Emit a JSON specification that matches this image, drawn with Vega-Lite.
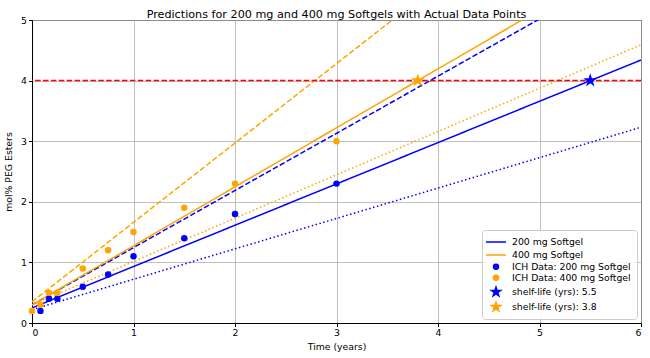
{
  "$schema": "https://vega.github.io/schema/vega-lite/v6.json",
  "width": 609,
  "height": 303,
  "autosize": {"type": "none"},
  "padding": {"left": 32, "top": 20, "right": 9, "bottom": 35},
  "background": "white",
  "title": {"text": "Predictions for 200 mg and 400 mg Softgels with Actual Data Points", "font": "DejaVu Sans", "fontSize": 11.2, "fontWeight": "normal", "color": "black", "offset": -4},
  "config": {
    "font": "DejaVu Sans",
    "view": {"stroke": "black", "strokeWidth": 1},
    "axis": {"labelFont": "DejaVu Sans", "labelFontSize": 9.3, "labelColor": "black", "titleFont": "DejaVu Sans", "titleFontSize": 9.3, "titleFontWeight": "normal", "titleColor": "black", "gridColor": "#b0b0b0", "gridWidth": 0.8, "domainColor": "black", "tickColor": "black", "tickSize": 3.5, "labelPadding": 2}
  },
  "datasets": {
    "lines": [
      {"product": "200 mg", "bound": "fit", "t": 0, "v": 0.25},
      {"product": "200 mg", "bound": "fit", "t": 6, "v": 4.34},
      {"product": "200 mg", "bound": "upper", "t": 0, "v": 0.3},
      {"product": "200 mg", "bound": "upper", "t": 6, "v": 5.96},
      {"product": "200 mg", "bound": "lower", "t": 0, "v": 0.22},
      {"product": "200 mg", "bound": "lower", "t": 6, "v": 3.23},
      {"product": "400 mg", "bound": "fit", "t": 0, "v": 0.3},
      {"product": "400 mg", "bound": "fit", "t": 6, "v": 6.14},
      {"product": "400 mg", "bound": "upper", "t": 0, "v": 0.35},
      {"product": "400 mg", "bound": "upper", "t": 6, "v": 8.21},
      {"product": "400 mg", "bound": "lower", "t": 0, "v": 0.3},
      {"product": "400 mg", "bound": "lower", "t": 6, "v": 4.59}
    ],
    "limit": [{"v": 4}],
    "points": [
      {"label": "ICH Data: 200 mg Softgel", "t": 0.083, "v": 0.2},
      {"label": "ICH Data: 200 mg Softgel", "t": 0.167, "v": 0.4},
      {"label": "ICH Data: 200 mg Softgel", "t": 0.25, "v": 0.4},
      {"label": "ICH Data: 200 mg Softgel", "t": 0.5, "v": 0.6},
      {"label": "ICH Data: 200 mg Softgel", "t": 0.75, "v": 0.8},
      {"label": "ICH Data: 200 mg Softgel", "t": 1, "v": 1.1},
      {"label": "ICH Data: 200 mg Softgel", "t": 1.5, "v": 1.4},
      {"label": "ICH Data: 200 mg Softgel", "t": 2, "v": 1.8},
      {"label": "ICH Data: 200 mg Softgel", "t": 3, "v": 2.3},
      {"label": "ICH Data: 400 mg Softgel", "t": 0, "v": 0.2},
      {"label": "ICH Data: 400 mg Softgel", "t": 0.083, "v": 0.3},
      {"label": "ICH Data: 400 mg Softgel", "t": 0.167, "v": 0.5},
      {"label": "ICH Data: 400 mg Softgel", "t": 0.25, "v": 0.5},
      {"label": "ICH Data: 400 mg Softgel", "t": 0.5, "v": 0.9},
      {"label": "ICH Data: 400 mg Softgel", "t": 0.75, "v": 1.2},
      {"label": "ICH Data: 400 mg Softgel", "t": 1, "v": 1.5},
      {"label": "ICH Data: 400 mg Softgel", "t": 1.5, "v": 1.9},
      {"label": "ICH Data: 400 mg Softgel", "t": 2, "v": 2.3},
      {"label": "ICH Data: 400 mg Softgel", "t": 3, "v": 3.0},
      {"label": "shelf-life (yrs): 5.5", "t": 5.5, "v": 4},
      {"label": "shelf-life (yrs): 3.8", "t": 3.8, "v": 4}
    ]
  },
  "layer": [
    {
      "data": {"name": "lines"},
      "mark": {"type": "line", "clip": true, "strokeWidth": 1.5},
      "encoding": {
        "x": {"field": "t", "type": "quantitative", "scale": {"domain": [0, 6], "nice": false, "zero": false}, "axis": {"title": "Time (years)", "values": [0, 1, 2, 3, 4, 5, 6], "format": "d", "grid": true, "titlePadding": 5}},
        "y": {"field": "v", "type": "quantitative", "scale": {"domain": [0, 5], "nice": false}, "axis": {"title": "mol% PEG Esters", "values": [0, 1, 2, 3, 4, 5], "format": "d", "grid": true, "titlePadding": 7}},
        "stroke": {"field": "product", "type": "nominal", "scale": {"domain": ["200 mg", "400 mg"], "range": ["#0000ff", "#ffa500"]}, "legend": null},
        "strokeDash": {"field": "bound", "type": "nominal", "scale": {"domain": ["fit", "upper", "lower"], "range": [[1, 0], [5.5, 2.4], [1.5, 2.5]]}, "legend": null},
        "detail": {"field": "bound"}
      }
    },
    {
      "data": {"name": "limit"},
      "mark": {"type": "rule", "color": "#ff0000", "strokeWidth": 1.5, "strokeDash": [5.5, 2.4]},
      "encoding": {"y": {"field": "v", "type": "quantitative"}}
    },
    {
      "data": {"name": "points"},
      "mark": {"type": "point", "filled": true, "opacity": 1, "clip": false},
      "encoding": {
        "x": {"field": "t", "type": "quantitative"},
        "y": {"field": "v", "type": "quantitative"},
        "color": {"field": "label", "type": "nominal", "scale": {"domain": ["200 mg Softgel", "400 mg Softgel", "ICH Data: 200 mg Softgel", "ICH Data: 400 mg Softgel", "shelf-life (yrs): 5.5", "shelf-life (yrs): 3.8"], "range": ["#0000ff", "#ffa500", "#0000ff", "#ffa500", "#0000ff", "#ffa500"]},
          "legend": {"title": null, "orient": "bottom-right", "offset": 4, "fillColor": "rgba(255,255,255,0.85)", "strokeColor": "#cccccc", "cornerRadius": 3, "padding": 6, "labelFont": "DejaVu Sans", "labelFontSize": 9.3, "labelColor": "black", "rowPadding": 1, "labelOffset": 8}},
        "shape": {"field": "label", "type": "nominal", "scale": {"domain": ["200 mg Softgel", "400 mg Softgel", "ICH Data: 200 mg Softgel", "ICH Data: 400 mg Softgel", "shelf-life (yrs): 5.5", "shelf-life (yrs): 3.8"], "range": ["M-2,-0.15H2V0.15H-2Z", "M-2,-0.15H2V0.15H-2Z", "circle", "circle", "M0,-1L0.2245,-0.309L0.951,-0.309L0.363,0.118L0.588,0.809L0,0.382L-0.588,0.809L-0.363,0.118L-0.951,-0.309L-0.2245,-0.309Z", "M0,-1L0.2245,-0.309L0.951,-0.309L0.363,0.118L0.588,0.809L0,0.382L-0.588,0.809L-0.363,0.118L-0.951,-0.309L-0.2245,-0.309Z"]}},
        "size": {"field": "label", "type": "nominal", "scale": {"type": "ordinal", "domain": ["200 mg Softgel", "400 mg Softgel", "ICH Data: 200 mg Softgel", "ICH Data: 400 mg Softgel", "shelf-life (yrs): 5.5", "shelf-life (yrs): 3.8"], "range": [100, 100, 42, 42, 210, 210]}}
      }
    }
  ]
}
